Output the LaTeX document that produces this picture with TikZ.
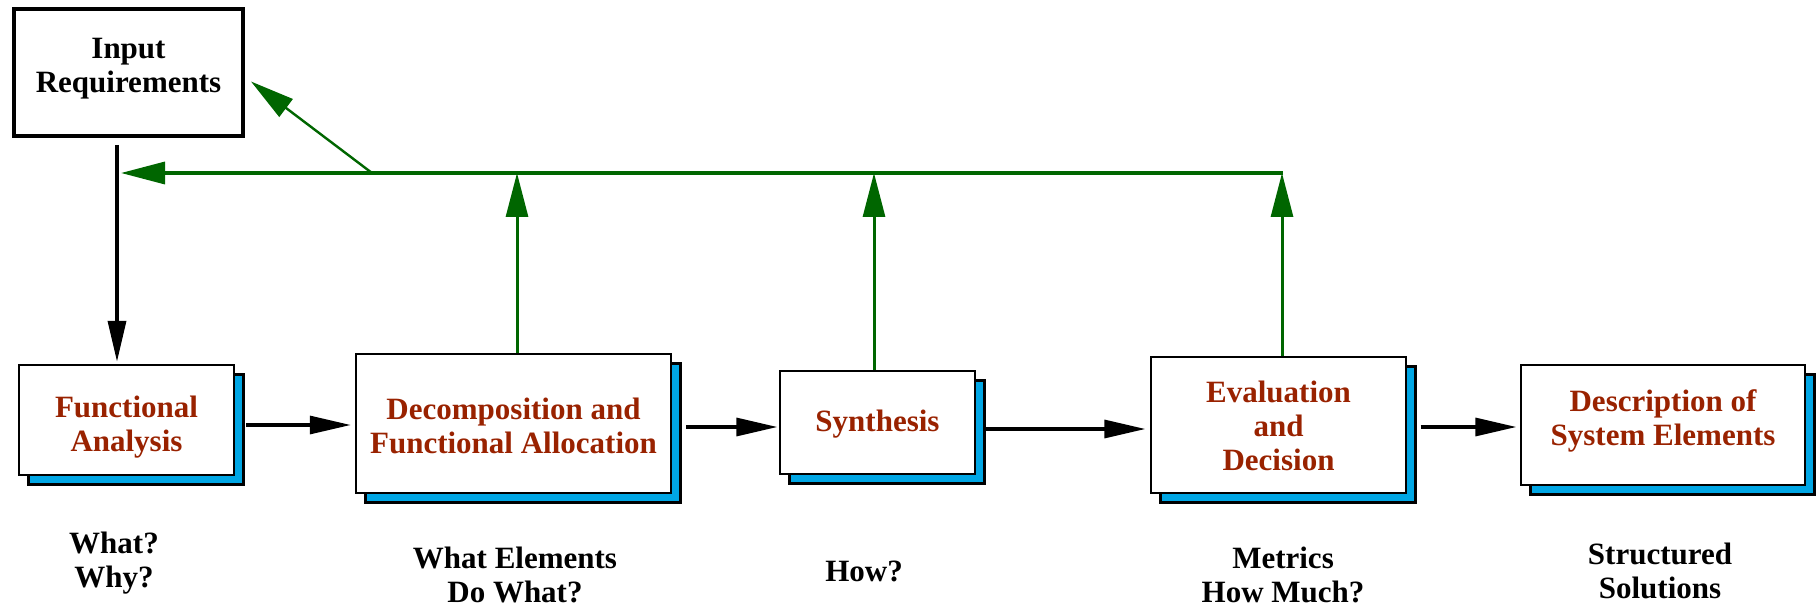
\documentclass[tikz,border=0pt]{standalone}
\usepackage{fontspec}
\setmainfont{Liberation Serif}
\usetikzlibrary{arrows.meta,calc,shadows}
\definecolor{stepred}{RGB}{153,34,0}
\definecolor{loopgreen}{RGB}{0,102,0}
\definecolor{shadowblue}{RGB}{0,166,228}

\begin{document}
\begin{tikzpicture}[x=0.5pt,y=-0.5pt,
  lbl/.style={font=\fontsize{15.5}{17}\selectfont\bfseries, align=center, inner sep=0pt},
  steptext/.style={lbl, text=stepred},
  task/.style={draw=black, line width=1.25pt, fill=white, inner sep=0pt,
    copy shadow={shadow xshift=4.75pt, shadow yshift=-4.75pt, fill=shadowblue,
                 draw=black, line width=1.25pt}},
  flow/.style={draw=black, line width=1.6pt, -{Triangle[length=20.5pt,width=9pt]}},
  fb/.style={draw=loopgreen, line width=1.5pt, -{Triangle[length=22pt,width=11pt]}},
]
\useasboundingbox (0,0) rectangle (1818,609);

% input box
\node[draw=black, line width=2pt, inner sep=0pt, minimum width=114.5pt, minimum height=63.5pt]
  (IR) at (128.5,72.5) {};
\node[lbl] (IRt) at ([yshift=2pt]IR.center) {Input\\Requirements};

% process steps
\node[task, minimum width=107.5pt, minimum height=55pt]   (FA)   at (126.5,420)   {};
\node[task, minimum width=157.5pt, minimum height=69.5pt] (DFA)  at (513.5,423.5) {};
\node[task, minimum width=97.5pt,  minimum height=51.5pt] (SYN)  at (877.5,422.5) {};
\node[task, minimum width=127.5pt, minimum height=68pt]   (EVAL) at (1278.5,425)  {};
\node[task, minimum width=142pt,   minimum height=60pt]   (DESC) at (1663,425)    {};

\node[steptext] (FAt)   at ([yshift=-3.5pt]FA.center)  {Functional\\Analysis};
\node[steptext] (DFAt)  at ([yshift=-1pt]DFA.center)   {Decomposition and\\Functional Allocation};
\node[steptext] (SYNt)  at ([yshift=-1pt]SYN.center)   {Synthesis};
\node[steptext] (EVALt) at ([yshift=-0.5pt]EVAL.center) {Evaluation\\and\\Decision};
\node[steptext] (DESCt) at ([yshift=2pt]DESC.center)   {Description of\\System Elements};

% questions under the steps
\node[lbl] (qFA)   at (114,563)  {What?\\Why?};
\node[lbl] (qDFA)  at (515,575)  {What Elements\\Do What?};
\node[lbl] (qSYN)  at (864,571)  {How?};
\node[lbl] (qEVAL) at (1283,575) {Metrics\\How Much?};
\node[lbl] (qDESC) at (1660,571) {Structured\\Solutions};

% feedback bus
\coordinate (junc)   at (117,173);
\coordinate (branch) at (372,173);
\coordinate (busR)   at (1283,173);

% forward flow
\draw[flow, line width=1.8pt, shorten <=3.5pt, shorten >=1pt] (IR.south -| junc) -- (FA.north -| junc);
\draw[flow, shorten >=2pt] ([xshift=5.5pt,yshift=-2.5pt]FA.east) -- ([yshift=-2.5pt]FA.east -| DFA.west);
\draw[flow, shorten >=0.7pt] ([xshift=7pt,yshift=-1.75pt]DFA.east) -- ([yshift=-1.75pt]DFA.east -| SYN.west);
\draw[flow, shorten >=2.2pt] ([xshift=4pt,yshift=-3.25pt]SYN.east) -- ([yshift=-3.25pt]SYN.east -| EVAL.west);
\draw[flow, shorten >=1.7pt] ([xshift=6.7pt,yshift=-1pt]EVAL.east) -- ([yshift=-1pt]EVAL.east -| DESC.west);

% feedback loops
\draw[fb, line width=1.7pt, shorten >=2pt] (busR) -- (junc);
\draw[fb, line width=1.2pt] (branch) -- ($(IR.east)+(6,9)$);
\draw[fb] ([xshift=1.75pt]DFA.north) -- ([xshift=1.75pt]DFA.north |- busR);
\draw[fb] ([xshift=-1.75pt]SYN.north) -- ([xshift=-1.75pt]SYN.north |- busR);
\draw[fb] ([xshift=1.75pt]EVAL.north) -- ([xshift=1.75pt]EVAL.north |- busR);
\end{tikzpicture}
\end{document}
